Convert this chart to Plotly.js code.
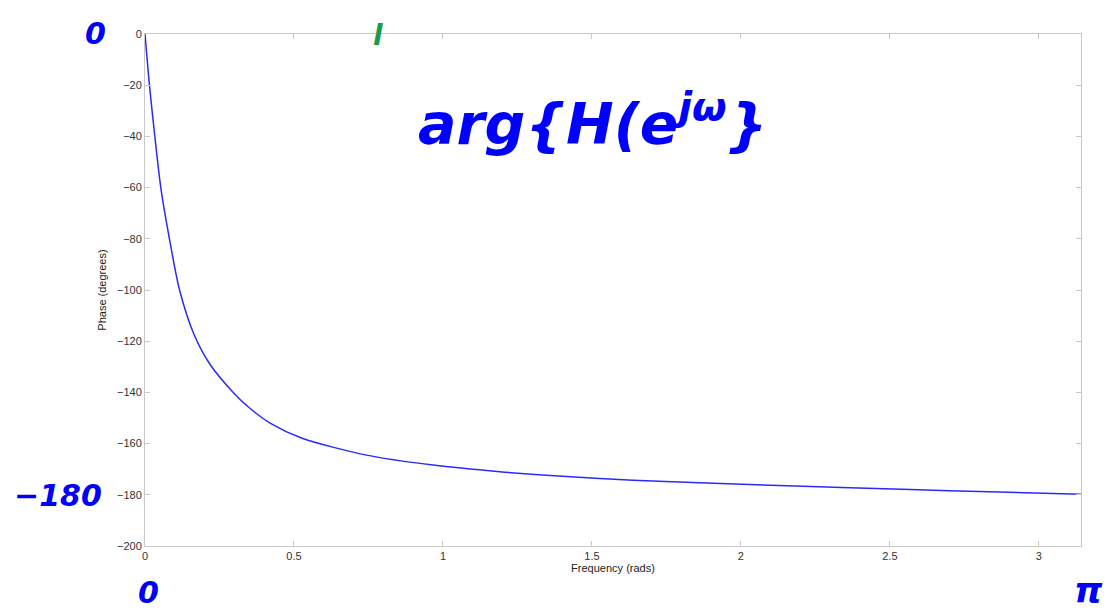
<!DOCTYPE html>
<html>
<head>
<meta charset="utf-8">
<script src="https://cdn.plot.ly/plotly-3.0.1.min.js"></script>
<style>
html,body{margin:0;padding:0;background:#fff;}
#chart{width:1107px;height:610px;}
</style>
</head>
<body>
<div id="chart"></div>
<script>
// Frequency (rads) and phase (degrees)
const frequency = [0, 0.015, 0.033, 0.053, 0.082, 0.116, 0.165, 0.218, 0.30, 0.35, 0.42, 0.525, 0.744, 0.967, 1.191, 1.415, 1.638, 1.862, 2.03, 2.366, 2.701, 3.1416];
const phase = [0, -20, -40, -60, -80, -100, -117.5, -129, -140.5, -146, -152, -157.8, -164.5, -168.4, -171, -172.9, -174.3, -175.3, -176.0, -177.2, -178.4, -179.8];

const yTicks = [0, -20, -40, -60, -80, -100, -120, -140, -160, -180, -200];
const xTicks = [0, 0.5, 1, 1.5, 2, 2.5, 3];
const xTitle = 'Frequency (rads)';
const yTitle = 'Phase (degrees)';

// handwritten notes on the picture (pixel positions)
const notes = [
  {text: '0', x: 95, y: 33, size: 30, color: '#0000ff', anchor: 'center'},
  {text: '−180', x: 58, y: 495, size: 30, color: '#0000ff', anchor: 'center'},
  {text: '0', x: 148, y: 592, size: 30, color: '#0000ff', anchor: 'center'},
  {text: 'π', x: 1104, y: 590, size: 36, color: '#0000ff', anchor: 'right'},
  {text: 'l', x: 378, y: 35, size: 28, color: '#1a9a4a', anchor: 'center'},
  {text: 'arg{H(e<sup>jω</sup>}', x: 592, y: 120, size: 57, color: '#0000ff', anchor: 'center'}
];

const L = 145, R = 26, T = 34, B = 64, W = 1107, H = 610;

const axisCommon = {
  showgrid: false,
  zeroline: false,
  showline: true,
  linecolor: '#c8c8c8',
  linewidth: 1,
  mirror: 'allticks',
  ticks: 'inside',
  ticklen: 5,
  tickcolor: '#c8c8c8',
  tickfont: {family: 'Liberation Sans, Arial, sans-serif', size: 11, color: '#333'}
};

const trace = {
  x: frequency,
  y: phase,
  type: 'scatter',
  mode: 'lines',
  line: {color: '#2a2aff', width: 1.5, shape: 'spline', smoothing: 0.8},
  hoverinfo: 'skip'
};

const layout = {
  width: W,
  height: H,
  margin: {l: L, r: R, t: T, b: B},
  paper_bgcolor: '#fff',
  plot_bgcolor: '#fff',
  showlegend: false,
  xaxis: Object.assign({}, axisCommon, {
    range: [0, Math.PI],
    tickvals: xTicks,
    ticktext: xTicks.map(String),
    title: {text: xTitle, standoff: 2, font: {family: 'Liberation Sans, Arial, sans-serif', size: 11, color: '#222'}}
  }),
  yaxis: Object.assign({}, axisCommon, {
    range: [-200, 0],
    tickvals: yTicks,
    ticktext: yTicks.map(v => v < 0 ? '−' + Math.abs(v) : String(v)),
    title: {text: yTitle, standoff: 8, font: {family: 'Liberation Sans, Arial, sans-serif', size: 11, color: '#222'}}
  }),
  annotations: notes.map(n => ({
    text: n.text,
    xref: 'paper', yref: 'paper',
    x: (n.x - L) / (W - L - R),
    y: 1 - (n.y - T) / (H - T - B),
    xanchor: n.anchor, yanchor: 'middle',
    showarrow: false,
    borderpad: 0,
    font: {family: 'DejaVu Sans, sans-serif', size: n.size, color: n.color, weight: 'bold', style: 'italic'}
  }))
};

Plotly.newPlot('chart', [trace], layout, {displayModeBar: false, staticPlot: true});
</script>
</body>
</html>
